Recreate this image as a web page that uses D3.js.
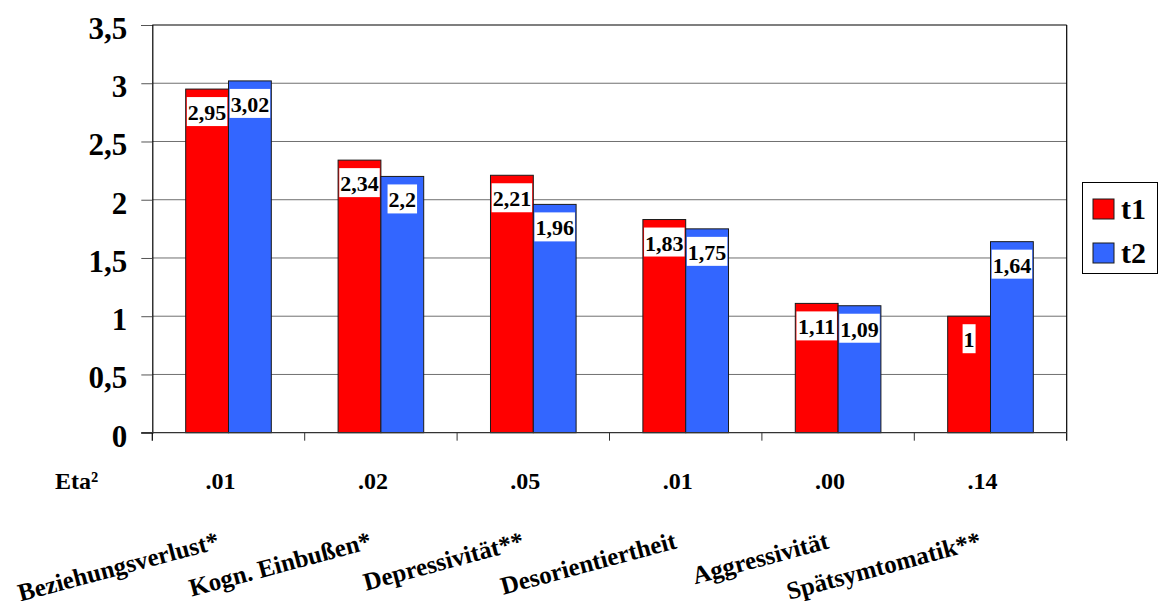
<!DOCTYPE html>
<html>
<head>
<meta charset="utf-8">
<script src="https://cdn.jsdelivr.net/npm/d3@7"></script>
</head>
<body style="margin:0;padding:0;background:#fff">
<svg id="chart" width="1162" height="601" style="display:block"></svg>
<script>
// Skalenmittelwerte zu zwei Messzeitpunkten
const categories = ["Beziehungsverlust*", "Kogn. Einbußen*", "Depressivität**", "Desorientiertheit", "Aggressivität", "Spätsymtomatik**"];
const series = ["t1", "t2"];
const valuesT1 = [2.95, 2.34, 2.21, 1.83, 1.11, 1.00];
const valuesT2 = [3.02, 2.20, 1.96, 1.75, 1.09, 1.64];
const valueLabelsT1 = ["2,95", "2,34", "2,21", "1,83", "1,11", "1"];
const valueLabelsT2 = ["3,02", "2,2", "1,96", "1,75", "1,09", "1,64"];
const etaLabel = "Eta²";
const etaValues = [".01", ".02", ".05", ".01", ".00", ".14"];
const yTicks = [0, 0.5, 1, 1.5, 2, 2.5, 3, 3.5];
const yTickLabels = ["0", "0,5", "1", "1,5", "2", "2,5", "3", "3,5"];

const colors = { t1: "#ff0000", t2: "#3366ff" };

// Einheitliche Schrift für alle Texte
function font(sel, size) {
  return sel
    .style("font-family", '"Liberation Serif", monospace')
    .style("font-weight", "bold")
    .style("font-size", size + "px")
    .attr("fill", "#000");
}

// Breite einer Zahlenbeschriftung (Ziffern 0.5 em, Komma 0.25 em)
function labelWidth(str, size) {
  let em = 0;
  for (const ch of str) em += (ch === "," || ch === ".") ? 0.25 : 0.5;
  return em * size;
}

const svg = d3.select("#chart");
const plot = { left: 152.3, right: 1066.7, top: 25, bottom: 432.7 };

const y = d3.scaleLinear().domain([0, 3.5]).range([plot.bottom, plot.top]);
const x0 = d3.scaleBand().domain(categories).range([plot.left, plot.right]).padding(0);
const x1 = d3.scaleBand().domain(series).range([0, x0.bandwidth()]).paddingInner(0).paddingOuter(0.78);

const rows = categories.map((c, i) => ({
  cat: c,
  items: [
    { key: "t1", value: valuesT1[i], label: valueLabelsT1[i] },
    { key: "t2", value: valuesT2[i], label: valueLabelsT2[i] }
  ]
}));

// Gitterlinien
svg.append("g").selectAll("line")
  .data(yTicks.filter(t => t > 0 && t < 3.5))
  .join("line")
  .attr("x1", plot.left).attr("x2", plot.right)
  .attr("y1", d => y(d)).attr("y2", d => y(d))
  .attr("stroke", "#707070").attr("stroke-width", 1);

// Rahmen oben und rechts
svg.append("line")
  .attr("x1", plot.left).attr("x2", plot.right)
  .attr("y1", y(3.5)).attr("y2", y(3.5))
  .attr("stroke", "#000").attr("stroke-width", 1.2);
svg.append("line")
  .attr("x1", plot.right).attr("x2", plot.right)
  .attr("y1", y(3.5)).attr("y2", y(0) + 8)
  .attr("stroke", "#000").attr("stroke-width", 1.2);

// Balken
const groups = svg.append("g").selectAll("g")
  .data(rows).join("g")
  .attr("transform", d => `translate(${x0(d.cat)},0)`);

groups.selectAll("rect")
  .data(d => d.items).join("rect")
  .attr("x", d => x1(d.key))
  .attr("y", d => y(d.value))
  .attr("width", x1.bandwidth())
  .attr("height", d => y(0) - y(d.value))
  .attr("fill", d => colors[d.key])
  .attr("stroke", "#1a1a1a").attr("stroke-width", 1);

// Y-Achse
const yAxis = svg.append("g")
  .attr("transform", `translate(${plot.left},0)`)
  .call(d3.axisLeft(y).tickValues(yTicks).tickFormat((d, i) => yTickLabels[i]).tickSize(11).tickPadding(14));
yAxis.attr("font-family", null);
yAxis.select(".domain").attr("stroke", "#000").attr("stroke-width", 1.2);
yAxis.selectAll(".tick line").attr("stroke", "#555");
font(yAxis.selectAll(".tick text"), 31).attr("dy", "0.43em");
// Achse nach unten verlängert
svg.append("line")
  .attr("x1", plot.left).attr("x2", plot.left)
  .attr("y1", y(0)).attr("y2", y(0) + 8)
  .attr("stroke", "#000").attr("stroke-width", 1.2);

// X-Achse mit Teilstrichen an den Gruppengrenzen
svg.append("line")
  .attr("x1", plot.left - 11).attr("x2", plot.right)
  .attr("y1", y(0)).attr("y2", y(0))
  .attr("stroke", "#333").attr("stroke-width", 1.2);
const bounds = categories.map(c => x0(c)).slice(1);
svg.append("g").selectAll("line")
  .data(bounds).join("line")
  .attr("x1", d => d).attr("x2", d => d)
  .attr("y1", y(0)).attr("y2", y(0) + 8)
  .attr("stroke", "#333").attr("stroke-width", 1);

// Wertebeschriftungen mit weißem Hintergrund
const LBL = 22;
groups.each(function (d) {
  const g = d3.select(this);
  d.items.forEach(it => {
    const cx = x1(it.key) + x1.bandwidth() / 2;
    const top = y(it.value) + 8;
    const w = labelWidth(it.label, LBL);
    g.append("rect").attr("fill", "#fff")
      .attr("x", cx - w / 2 - 1).attr("y", top).attr("width", w + 2).attr("height", 29);
    font(g.append("text"), LBL)
      .attr("x", cx).attr("y", top + 23)
      .attr("text-anchor", "middle")
      .text(it.label);
  });
});

// Eta²-Zeile
font(svg.append("text"), 24)
  .attr("x", 55).attr("y", 489)
  .text(etaLabel);
font(svg.append("g").selectAll("text")
  .data(etaValues).join("text"), 24)
  .attr("x", (d, i) => x0(categories[i]) + x0.bandwidth() / 2 - 8)
  .attr("y", 489)
  .attr("text-anchor", "middle")
  .text(d => d);

// Kategorienbeschriftungen, schräg
font(svg.append("g").selectAll("text")
  .data(categories).join("text"), 25)
  .attr("text-anchor", "end")
  .attr("transform", d => `translate(${x0(d) + x0.bandwidth() / 2 - 8},548) rotate(-15)`)
  .text(d => d);

// Legende
const legend = svg.append("g");
legend.append("rect")
  .attr("x", 1082.5).attr("y", 182.5).attr("width", 75).attr("height", 91)
  .attr("fill", "#fff").attr("stroke", "#000").attr("stroke-width", 1);
series.forEach((s, i) => {
  legend.append("rect")
    .attr("x", 1093).attr("y", 199 + i * 44)
    .attr("width", 21).attr("height", 20)
    .attr("fill", colors[s]).attr("stroke", "#1a1a1a").attr("stroke-width", 1);
  font(legend.append("text"), 30)
    .attr("x", 1121).attr("y", 219 + i * 44)
    .text(s);
});
</script>
</body>
</html>
